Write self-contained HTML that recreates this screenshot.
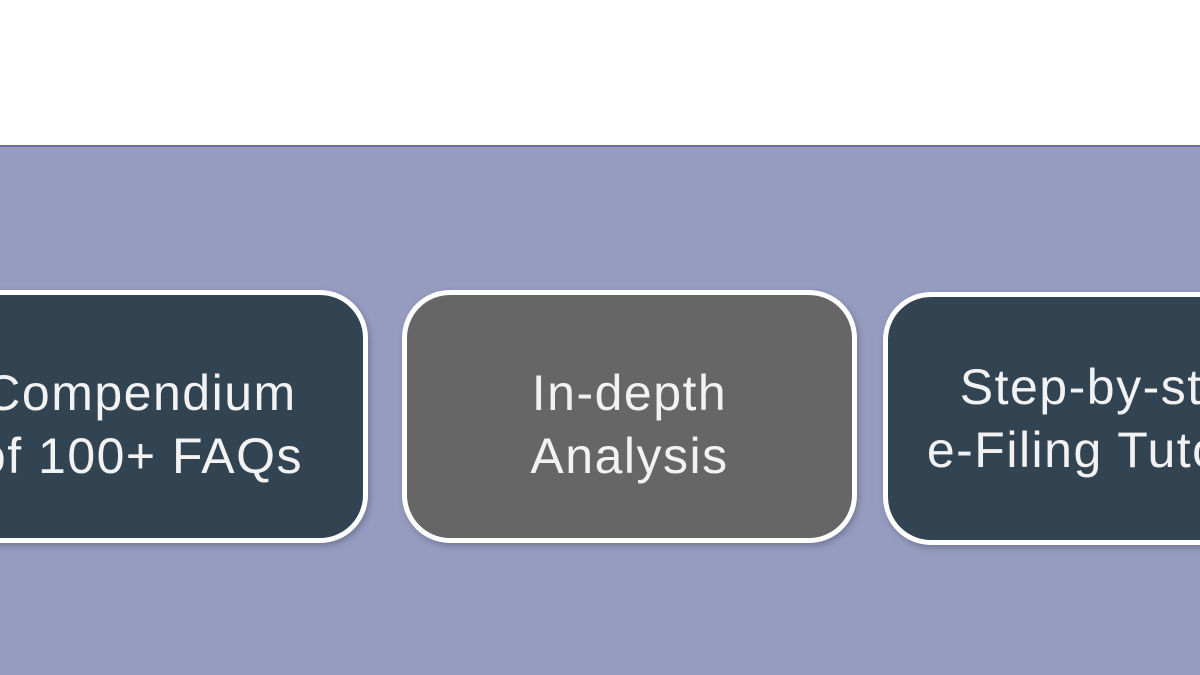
<!DOCTYPE html>
<html><head><meta charset="utf-8"><style>
html,body{margin:0;padding:0;width:1200px;height:675px;overflow:hidden;background:#fff;font-family:"Liberation Sans",sans-serif}
.wrap{position:absolute;left:0;top:0;width:1200px;height:675px;overflow:hidden}
.band{position:absolute;left:0;top:145px;width:1200px;height:530px;background:#959cbf;border-top:2px solid #6c6c98;box-sizing:border-box}
.box{position:absolute;top:290px;height:253px;width:455px;box-sizing:border-box;border:5px solid #fff;border-radius:48px;display:flex;align-items:center;justify-content:center;text-align:center;color:#f2f2f2;font-size:50px;letter-spacing:1.5px;line-height:63px;padding-top:16px;box-shadow:2px 3px 6px rgba(60,60,90,.35);white-space:nowrap}
.d{background:#324352}
.g{background:#666}
</style></head><body>
<div class="wrap">
<div class="band"></div>
<div class="box d" style="left:-87px">Compendium<br>of 100+ FAQs</div>
<div class="box g" style="left:402px">In-depth<br>Analysis</div>
<div class="box d" style="left:883px;top:292px;padding-top:0px">Step-by-step<br>e-Filing Tutorial</div>
</div>
</body></html>
